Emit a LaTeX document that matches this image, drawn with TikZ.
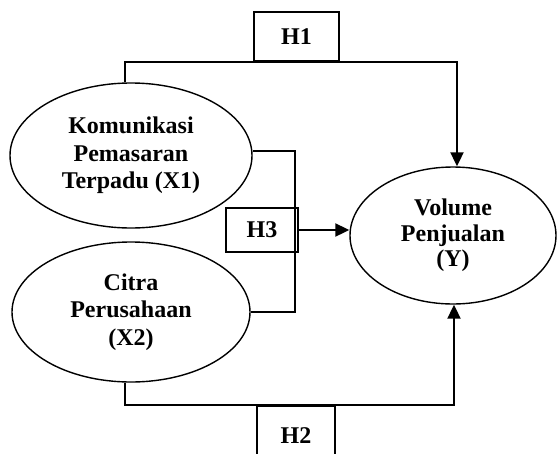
\documentclass[tikz,border=0pt]{standalone}
\usepackage{fontspec}
\setmainfont{Liberation Serif}
\usetikzlibrary{shapes.geometric,arrows.meta}
\begin{document}
\begin{tikzpicture}[x=1pt,y=-1pt,
  conn/.style={line width=2.1pt},
  arr/.style={line width=2.1pt,-{Triangle[length=14pt,width=13pt]}},
  var/.style={ellipse,draw,line width=1.4pt,inner sep=0pt,align=center,
    font=\fontsize{24}{27.5}\selectfont\bfseries},
  hyp/.style={rectangle,draw,line width=2.1pt,inner sep=0pt,
    font=\fontsize{24}{27.5}\selectfont\bfseries}]
\path[use as bounding box] (0,0) rectangle (557,453);
\clip (0,0) rectangle (557,453);
\fill[white] (0,0) rectangle (557,453);
% variables
\node[var,minimum width=242pt,minimum height=145pt] (x1) at (131,155.5)
  {Komunikasi\\Pemasaran\\Terpadu (X1)};
\node[var,minimum width=238pt,minimum height=140pt] (x2) at (131,312)
  {Citra\\Perusahaan\\(X2)};
\node[var,minimum width=206pt,minimum height=137pt,
  font=\fontsize{24}{25.5}\selectfont\bfseries] (y) at (453,235.5)
  {Volume\\Penjualan\\(Y)};
% hypothesis boxes
\node[hyp,minimum width=85pt,minimum height=49pt] (h1) at (296.5,36.5) {H1};
\node[hyp,minimum width=78pt,minimum height=60pt] (h2) at (296,436) {H2};
\node[hyp,minimum width=72pt,minimum height=44pt] (h3) at (262,230) {H3};
% junctions
\coordinate (jt) at (295,151);
\coordinate (jb) at (295,312);
% H1 path
\draw[arr] ([xshift=-6pt]x1.north) |- (h1.south) -| ([xshift=4pt]y.north);
% H2 path
\draw[arr] ([xshift=-6pt]x2.south) |- (h2.north) -| ([xshift=1pt]y.south);
% H3 bracket
\draw[conn] (x1.east |- jt) -- (jt) -- (jb) -- (x2.east);
\draw[arr] (h3.east) -- (y.west |- h3.east);
\end{tikzpicture}
\end{document}
